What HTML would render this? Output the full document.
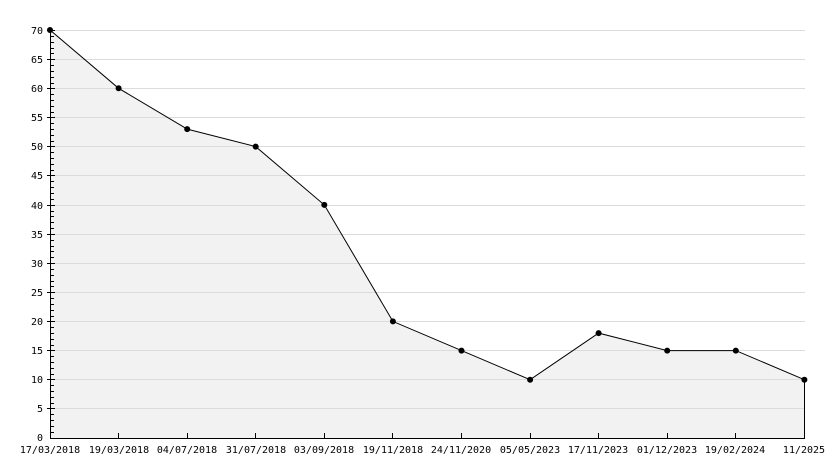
<!DOCTYPE html>
<html><head><meta charset="utf-8"><style>
html,body{margin:0;padding:0;background:#fff;}
svg{display:block;}
text{font-family:"DejaVu Sans Mono","Liberation Mono",monospace;font-size:10px;fill:#000;}
</style></head><body>
<svg width="834" height="468" viewBox="0 0 834 468" xmlns="http://www.w3.org/2000/svg">
<rect width="834" height="468" fill="#fff"/>
<polygon points="50,438 50,30 118.6,88.3 187.2,129.1 255.7,146.6 324.3,204.9 392.9,321.4 461.5,350.6 530.1,379.7 598.6,333.1 667.2,350.6 735.8,350.6 804.4,379.7 804.4,438" fill="#f2f2f2"/>
<g stroke="#dcdcdc" stroke-width="1">
<line x1="50" y1="30.5" x2="805" y2="30.5"/>
<line x1="50" y1="59.5" x2="805" y2="59.5"/>
<line x1="50" y1="88.5" x2="805" y2="88.5"/>
<line x1="50" y1="117.5" x2="805" y2="117.5"/>
<line x1="50" y1="146.5" x2="805" y2="146.5"/>
<line x1="50" y1="175.5" x2="805" y2="175.5"/>
<line x1="50" y1="205.5" x2="805" y2="205.5"/>
<line x1="50" y1="234.5" x2="805" y2="234.5"/>
<line x1="50" y1="263.5" x2="805" y2="263.5"/>
<line x1="50" y1="292.5" x2="805" y2="292.5"/>
<line x1="50" y1="321.5" x2="805" y2="321.5"/>
<line x1="50" y1="350.5" x2="805" y2="350.5"/>
<line x1="50" y1="379.5" x2="805" y2="379.5"/>
<line x1="50" y1="408.5" x2="805" y2="408.5"/>
</g>
<polyline points="50,30 118.6,88.3 187.2,129.1 255.7,146.6 324.3,204.9 392.9,321.4 461.5,350.6 530.1,379.7 598.6,333.1 667.2,350.6 735.8,350.6 804.4,379.7" fill="none" stroke="#000" stroke-width="1"/>
<line x1="804.5" y1="379.7" x2="804.5" y2="438" stroke="#000" stroke-width="1"/>
<!-- axes -->
<line x1="50.5" y1="30" x2="50.5" y2="439" stroke="#000" stroke-width="1"/>
<line x1="50" y1="438.5" x2="805" y2="438.5" stroke="#000" stroke-width="1"/>
<g stroke="#000" stroke-width="1" id="yt"></g>
<g fill="#000">
<circle cx="50" cy="30" r="3"/>
<circle cx="118.6" cy="88.3" r="3"/>
<circle cx="187.2" cy="129.1" r="3"/>
<circle cx="255.7" cy="146.6" r="3"/>
<circle cx="324.3" cy="204.9" r="3"/>
<circle cx="392.9" cy="321.4" r="3"/>
<circle cx="461.5" cy="350.6" r="3"/>
<circle cx="530.1" cy="379.7" r="3"/>
<circle cx="598.6" cy="333.1" r="3"/>
<circle cx="667.2" cy="350.6" r="3"/>
<circle cx="735.8" cy="350.6" r="3"/>
<circle cx="804.4" cy="379.7" r="3"/>
</g>
<g stroke="#000" stroke-width="1">
<path d="M47,30.5H55M51,36.5H54M51,42.5H54M51,48.5H54M51,53.5H54M47,59.5H55M51,65.5H54M51,71.5H54M51,77.5H54M51,83.5H54M47,88.5H55M51,94.5H54M51,100.5H54M51,106.5H54M51,112.5H54M47,117.5H55M51,123.5H54M51,129.5H54M51,135.5H54M51,141.5H54M47,146.5H55M51,152.5H54M51,158.5H54M51,164.5H54M51,170.5H54M47,175.5H55M51,181.5H54M51,187.5H54M51,193.5H54M51,199.5H54M47,205.5H55M51,211.5H54M51,216.5H54M51,222.5H54M51,228.5H54M47,234.5H55M51,240.5H54M51,246.5H54M51,251.5H54M51,257.5H54M47,263.5H55M51,269.5H54M51,275.5H54M51,281.5H54M51,286.5H54M47,292.5H55M51,298.5H54M51,304.5H54M51,310.5H54M51,316.5H54M47,321.5H55M51,327.5H54M51,333.5H54M51,339.5H54M51,345.5H54M47,350.5H55M51,356.5H54M51,362.5H54M51,368.5H54M51,374.5H54M47,379.5H55M51,385.5H54M51,391.5H54M51,397.5H54M51,403.5H54M47,408.5H55M51,414.5H54M51,420.5H54M51,426.5H54M51,432.5H54"/>
<path d="M118.5,433V438M187.5,433V438M255.5,433V438M324.5,433V438M392.5,433V438M461.5,433V438M530.5,433V438M598.5,433V438M667.5,433V438M735.5,433V438"/>
</g>
<g text-anchor="end">
<text x="43" y="34">70</text>
<text x="43" y="63">65</text>
<text x="43" y="92">60</text>
<text x="43" y="121">55</text>
<text x="43" y="150">50</text>
<text x="43" y="179">45</text>
<text x="43" y="209">40</text>
<text x="43" y="238">35</text>
<text x="43" y="267">30</text>
<text x="43" y="296">25</text>
<text x="43" y="325">20</text>
<text x="43" y="354">15</text>
<text x="43" y="383">10</text>
<text x="43" y="412">5</text>
<text x="43" y="441">0</text>
</g>
<g text-anchor="middle">
<text x="50" y="453">17/03/2018</text>
<text x="119" y="453">19/03/2018</text>
<text x="187" y="453">04/07/2018</text>
<text x="256" y="453">31/07/2018</text>
<text x="324" y="453">03/09/2018</text>
<text x="393" y="453">19/11/2018</text>
<text x="461" y="453">24/11/2020</text>
<text x="530" y="453">05/05/2023</text>
<text x="598" y="453">17/11/2023</text>
<text x="667" y="453">01/12/2023</text>
<text x="735" y="453">19/02/2024</text>
<text x="804" y="453">11/2025</text>
</g>
</svg>
</body></html>
